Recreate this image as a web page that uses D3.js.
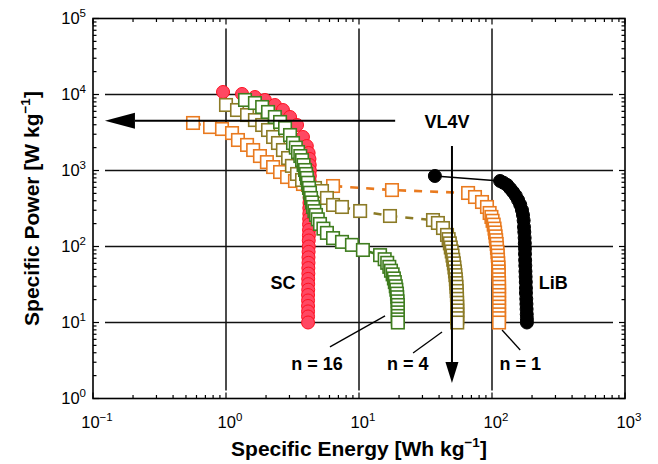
<!DOCTYPE html>
<html>
<head>
<meta charset="utf-8">
<script src="https://cdn.jsdelivr.net/npm/d3@7"></script>
<style>
  body { margin: 0; background: #fff; }
  text { font-family: "Liberation Sans", Arial, Helvetica, sans-serif; fill: #000; }
</style>
</head>
<body>
<svg id="chart" width="658" height="464"></svg>
<script>
// Ragone plot, values as [specific energy Wh/kg, specific power W/kg]

const SC = [
    [0.95, 10790], [1.32, 10160], [1.65, 9270], [1.96, 8470], [2.33, 7280],
    [2.68, 6250], [3.03, 5060], [3.42, 3970], [3.79, 2760], [4.05, 2100],
    [4.18, 1700], [4.24, 1420], [4.26, 1180], [4.27, 1000], [4.27, 850],
    [4.26, 720], [4.26, 610], [4.25, 520], [4.25, 440], [4.24, 375],
    [4.23, 320], [4.23, 270], [4.22, 230], [4.21, 195], [4.21, 165],
    [4.20, 140], [4.19, 120], [4.19, 100], [4.18, 85], [4.17, 72],
    [4.17, 61], [4.16, 52], [4.16, 44], [4.15, 37.5], [4.15, 32],
    [4.15, 27], [4.14, 23], [4.14, 19.5], [4.14, 16.5], [4.14, 14],
    [4.14, 12], [4.14, 10]
];

const N16 = [
    [1.39, 8470], [1.65, 7730], [1.87, 6850], [2.07, 5890], [2.33, 5060],
    [2.55, 4350], [2.78, 3620], [3.03, 2930], [3.19, 2300], [3.35, 2000],
    [3.48, 1750], [3.62, 1550], [3.73, 1370], [3.83, 1180], [3.93, 1015],
    [4.00, 900], [4.06, 797], [4.13, 690], [4.21, 589], [4.28, 510],
    [4.36, 435], [4.43, 380], [4.51, 331], [4.62, 292], [4.75, 260],
    [4.90, 228], [5.09, 198], [5.40, 172], [5.74, 151], [6.38, 129],
    [7.45, 115], [8.85, 105], [10.7, 90], [14.4, 77], [15.6, 68],
    [16.3, 61], [16.9, 54], [17.4, 48], [17.9, 43], [18.3, 38],
    [18.6, 34], [18.9, 30], [19.1, 27], [19.3, 24], [19.4, 21.5],
    [19.5, 19], [19.6, 17], [19.6, 15.2], [19.6, 13.6], [19.6, 12.2],
    [19.6, 11], [19.6, 10]
];

const N4 = [
    [1.00, 7280], [1.21, 6250], [1.44, 5370], [1.65, 4610], [1.87, 3970],
    [2.07, 3410], [2.26, 2760], [2.46, 2300], [2.68, 1860], [2.93, 1460],
    [3.13, 1150], [3.42, 900], [3.73, 750], [4.14, 644], [4.67, 589],
    [5.27, 537], [5.74, 435], [6.38, 352], [7.45, 331], [10.2, 293],
    [17.1, 252], [36.0, 223], [39.2, 204], [42.8, 175], [45.9, 142],
    [47.2, 125], [48.2, 110], [49.0, 97], [49.8, 86], [50.5, 76],
    [51.1, 67], [51.7, 60], [52.2, 53], [52.7, 47], [53.1, 42],
    [53.5, 37], [53.8, 33], [54.1, 29.5], [54.3, 26], [54.5, 23],
    [54.6, 20.5], [54.7, 18.2], [54.8, 16.2], [54.8, 14.4], [54.8, 12.8],
    [54.8, 11.4], [54.8, 10]
];

const N1 = [
    [0.565, 4220], [0.759, 3730], [0.933, 3515], [1.11, 3110], [1.23, 2520],
    [1.44, 2170], [1.60, 1860], [1.80, 1550], [2.03, 1290], [2.26, 1110],
    [2.55, 955], [2.88, 820], [3.30, 728], [3.79, 664], [6.38, 625],
    [17.7, 553], [66.1, 506], [74.5, 448], [84.1, 385], [91.7, 331],
    [96, 276], [99, 245], [101, 218], [103, 194], [104.5, 172],
    [105.5, 153], [106.5, 136], [107.5, 121], [108.5, 108], [109, 96],
    [110, 85], [110.5, 76], [111, 67], [111.5, 60], [112, 53],
    [112, 47], [112.5, 42], [112.5, 37], [113, 33], [113, 29.5],
    [113, 26], [113, 23], [113, 20.5], [113, 18.2], [113, 16.2],
    [113, 14.4], [113, 12.8], [113, 11.4], [113, 10]
];

const LIB = [
    [37.2, 847], [115, 728], [122, 690], [130, 644], [137, 580], [144, 521],
    [151, 465], [157, 409], [163, 355], [168, 302], [171, 260], [173, 220],
    [174, 181], [175, 155], [176, 130], [176.5, 110], [177, 94], [177, 80],
    [177.5, 66], [178, 56], [178.5, 47], [179, 40], [179.5, 34], [180, 28.5],
    [180, 24.4], [181, 20.5], [181.5, 17.5], [182, 15], [182.5, 12.8],
    [183, 11.2], [183, 10]
];

const X_EXPONENTS = [-1, 0, 1, 2, 3];
const Y_EXPONENTS = [0, 1, 2, 3, 4, 5];

// text labels placed in data space: [text, energy, power]
const LABELS = [
    ["SC", 2.68, 28],
    ["VL4V", 45.9, 3620],
    ["n = 16", 4.83, 2.37],
    ["n = 4", 23.3, 2.37],
    ["n = 1", 163, 2.37]
];
const LIB_LABEL = ["LiB", 225, 28];

// leader lines from labels to curves: [[e0, p0], [e1, p1]]
const LEADERS = [
    [[6.05, 4.77], [15.7, 12.2]],
    [[25.5, 3.97], [42.1, 7.5]],
    [[163, 4.35], [119, 7.96]]
];

// arrows: [tail, tip]
const ARROW_LEFT = [[18.7, 4520], [0.123, 4520]];
const ARROW_DOWN = [[50.0, 2100], [50.0, 1.6]];

const WIDTH = 658;
const HEIGHT = 464;
const LEFT = 93;
const RIGHT = 625;
const TOP = 18.5;
const BOTTOM = 398.5;

const svg = d3.select("#chart");

const x = d3.scaleLog()
    .domain([0.1, 1000])
    .range([LEFT, RIGHT]);

const y = d3.scaleLog()
    .domain([1, 1e5])
    .range([BOTTOM, TOP]);

const sup = d => (d < 0 ? "\u2212" + (-d) : String(d));

// grid
const grid = svg.append("g").attr("stroke", "#111").attr("stroke-width", 1.5);

grid.selectAll(".vgrid")
    .data(X_EXPONENTS.slice(1, -1))
.enter()
    .append("line")
    .attr("x1", d => x(10 ** d))
    .attr("x2", d => x(10 ** d))
    .attr("y1", TOP + 10)
    .attr("y2", BOTTOM - 8);

grid.selectAll(".hgrid")
    .data(Y_EXPONENTS.slice(1, -1))
.enter()
    .append("line")
    .attr("y1", d => y(10 ** d))
    .attr("y2", d => y(10 ** d))
    .attr("x1", LEFT + 12)
    .attr("x2", RIGHT - 12);

// ticks, inward on all four sides
const ticks = svg.append("g").attr("stroke", "#000").attr("stroke-width", 1.2);
const isMajor = v => Math.abs(Math.log10(v) - Math.round(Math.log10(v))) < 1e-9;
const tickLen = v => isMajor(v) ? 6 : 3.5;

x.ticks().forEach(v => {
    const px = x(v);
    ticks.append("line").attr("x1", px).attr("x2", px).attr("y1", BOTTOM).attr("y2", BOTTOM - tickLen(v));
    ticks.append("line").attr("x1", px).attr("x2", px).attr("y1", TOP).attr("y2", TOP + tickLen(v));
});

y.ticks().forEach(v => {
    const py = y(v);
    ticks.append("line").attr("y1", py).attr("y2", py).attr("x1", LEFT).attr("x2", LEFT + tickLen(v));
    ticks.append("line").attr("y1", py).attr("y2", py).attr("x1", RIGHT).attr("x2", RIGHT - tickLen(v));
});

// tick labels
svg.selectAll(".xlabel")
    .data(X_EXPONENTS)
.enter()
    .append("text")
    .attr("class", "xlabel")
    .attr("x", d => x(10 ** d) + 4)
    .attr("y", 428)
    .attr("text-anchor", "middle")
    .attr("font-size", 16.5)
    .each(function(d) {
        const t = d3.select(this);
        t.append("tspan").text("10");
        t.append("tspan").attr("dy", -7).attr("font-size", 11.5).text(sup(d));
    });

svg.selectAll(".ylabel")
    .data(Y_EXPONENTS)
.enter()
    .append("text")
    .attr("class", "ylabel")
    .attr("x", 86)
    .attr("y", d => y(10 ** d) + 5.5)
    .attr("text-anchor", "end")
    .attr("font-size", 16.5)
    .each(function(d) {
        const t = d3.select(this);
        t.append("tspan").text("10");
        t.append("tspan").attr("dy", -7).attr("font-size", 11.5).text(sup(d));
    });

// axis titles
const xTitle = svg.append("text")
    .attr("x", (LEFT + RIGHT) / 2)
    .attr("y", 456)
    .attr("text-anchor", "middle")
    .attr("font-size", 21)
    .attr("font-weight", "bold");
xTitle.append("tspan").text("Specific Energy [Wh kg");
xTitle.append("tspan").attr("dy", -9).attr("font-size", 13.5).text("\u22121");
xTitle.append("tspan").attr("dy", 9).text("]");

const yTitle = svg.append("text")
    .attr("transform", `translate(39,${(TOP + BOTTOM) / 2}) rotate(-90)`)
    .attr("text-anchor", "middle")
    .attr("font-size", 21)
    .attr("font-weight", "bold");
yTitle.append("tspan").text("Specific Power [W kg");
yTitle.append("tspan").attr("dy", -9).attr("font-size", 13.5).text("\u22121");
yTitle.append("tspan").attr("dy", 9).text("]");

// series
const line = d3.line().x(d => x(d[0])).y(d => y(d[1]));
const SIDE = 12.5;

function squares(data, color) {
    svg.append("path")
        .datum(data)
        .attr("d", line)
        .attr("fill", "none")
        .attr("stroke", color)
        .attr("stroke-width", 2.6)
        .attr("stroke-dasharray", "8,8");

    svg.append("g")
        .selectAll("rect")
        .data(data)
    .enter()
        .append("rect")
        .attr("x", d => x(d[0]) - SIDE / 2)
        .attr("y", d => y(d[1]) - SIDE / 2)
        .attr("width", SIDE)
        .attr("height", SIDE)
        .attr("fill", "#fff")
        .attr("stroke", color)
        .attr("stroke-width", 1.6);
}

function circles(data, fill, stroke) {
    svg.append("g")
        .selectAll("circle")
        .data(data)
    .enter()
        .append("circle")
        .attr("cx", d => x(d[0]))
        .attr("cy", d => y(d[1]))
        .attr("r", 6.5)
        .attr("fill", fill)
        .attr("stroke", stroke)
        .attr("stroke-width", 1);
}

svg.append("path")
    .datum(LIB)
    .attr("d", line)
    .attr("fill", "none")
    .attr("stroke", "#000")
    .attr("stroke-width", 1.4);
circles(LIB, "#000", "#000");
circles(SC, "#ff4862", "#ff1020");
squares(N1, "#e97a1f");
squares(N4, "#8c7b26");
squares(N16, "#3f7d1f");

// frame
svg.append("rect")
    .attr("x", LEFT)
    .attr("y", TOP)
    .attr("width", RIGHT - LEFT)
    .attr("height", BOTTOM - TOP)
    .attr("fill", "none")
    .attr("stroke", "#000")
    .attr("stroke-width", 1.6);

// annotations
svg.selectAll(".note")
    .data(LABELS)
.enter()
    .append("text")
    .attr("x", d => x(d[1]))
    .attr("y", d => y(d[2]))
    .attr("text-anchor", "middle")
    .attr("font-size", 18)
    .attr("font-weight", "bold")
    .text(d => d[0]);

svg.append("text")
    .attr("x", x(LIB_LABEL[1]))
    .attr("y", y(LIB_LABEL[2]))
    .attr("font-size", 18)
    .attr("font-weight", "bold")
    .text(LIB_LABEL[0]);

svg.selectAll(".leader")
    .data(LEADERS)
.enter()
    .append("line")
    .attr("x1", d => x(d[0][0]))
    .attr("y1", d => y(d[0][1]))
    .attr("x2", d => x(d[1][0]))
    .attr("y2", d => y(d[1][1]))
    .attr("stroke", "#000")
    .attr("stroke-width", 1.3);

// arrows
function arrow(a, head, halfWidth) {
    const x0 = x(a[0][0]), y0 = y(a[0][1]);
    const x1 = x(a[1][0]), y1 = y(a[1][1]);
    const len = Math.hypot(x1 - x0, y1 - y0);
    const ux = (x1 - x0) / len, uy = (y1 - y0) / len;
    const bx = x1 - ux * head, by = y1 - uy * head;
    svg.append("line")
        .attr("x1", x0).attr("y1", y0)
        .attr("x2", bx).attr("y2", by)
        .attr("stroke", "#000")
        .attr("stroke-width", 2);
    svg.append("polygon")
        .attr("points", [
            [x1, y1],
            [bx - uy * halfWidth, by + ux * halfWidth],
            [bx + uy * halfWidth, by - ux * halfWidth]
        ].map(p => p.join(",")).join(" "))
        .attr("fill", "#000");
}

arrow(ARROW_LEFT, 30, 8);
arrow(ARROW_DOWN, 21, 6.5);
</script>
</body>
</html>
